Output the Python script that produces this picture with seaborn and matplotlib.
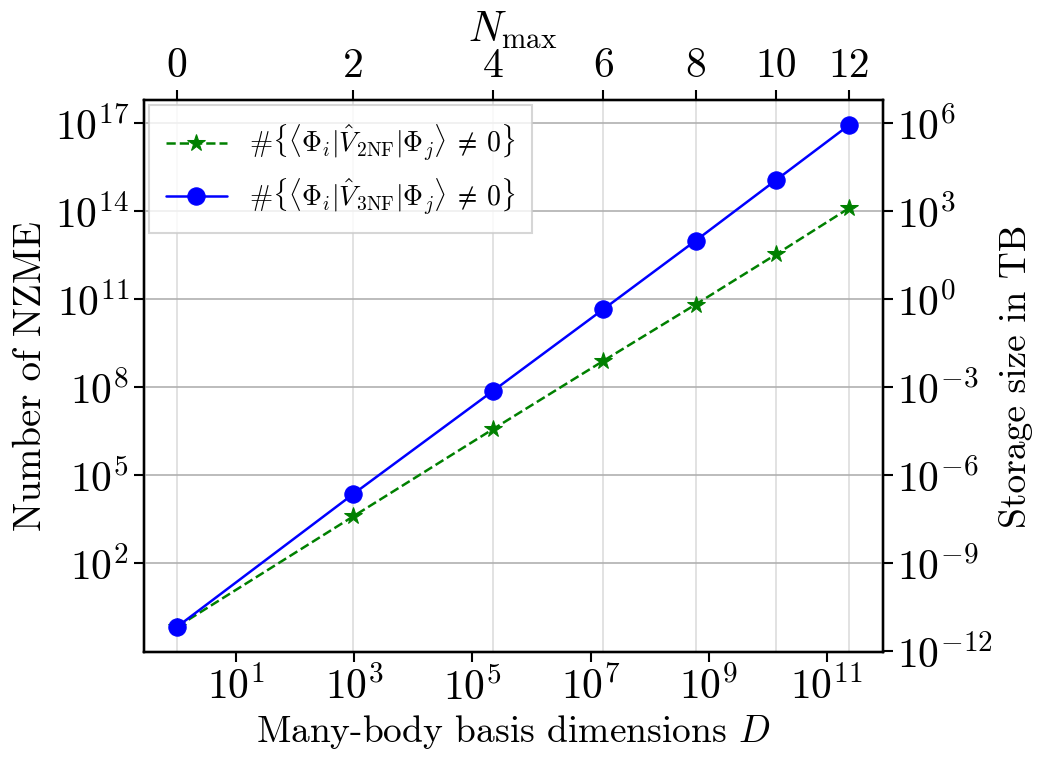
import numpy as np
import pandas as pd
import matplotlib
matplotlib.use("Agg")
import matplotlib.pyplot as plt
import matplotlib.ticker as mticker
import seaborn as sns

# ---- data ----
nmax = [0, 2, 4, 6, 8, 10, 12]
basis_dim = [1.0, 9.5e2, 2.23e5, 1.64e7, 6.0e8, 1.41e10, 2.4e11]
nzme_2nf = [0.7, 4.0e3, 3.8e6, 8.0e8, 6.7e10, 3.5e12, 1.3e14]
nzme_3nf = [0.7, 2.3e4, 7.6e7, 4.6e10, 1.0e13, 1.2e15, 8.8e16]
bottom_ticks = [1e1, 1e3, 1e5, 1e7, 1e9, 1e11]
left_ticks = [1e2, 1e5, 1e8, 1e11, 1e14, 1e17]
right_ticks = [1e-12, 1e-9, 1e-6, 1e-3, 1e0, 1e3, 1e6]
tb_per_element = 1e-11

label_2nf = r"$\#\{\langle\Phi_i|\hat{V}_{\mathrm{2NF}}|\Phi_j\rangle\:\neq\:0\}$"
label_3nf = r"$\#\{\langle\Phi_i|\hat{V}_{\mathrm{3NF}}|\Phi_j\rangle\:\neq\:0\}$"

df = pd.DataFrame({"D": basis_dim, "v2": nzme_2nf, "v3": nzme_3nf, "N": nmax})

sns.set_style("ticks")
plt.rcParams.update({
    "font.family": "serif",
    "font.serif": ["cmr10", "DejaVu Serif"],
    "mathtext.fontset": "cm",
    "axes.formatter.use_mathtext": True,
    "axes.unicode_minus": False,
    "axes.linewidth": 1.6,
    "axes.edgecolor": "black",
    "axes.labelcolor": "black",
    "text.color": "black",
    "xtick.major.width": 1.5,
    "ytick.major.width": 1.5,
    "xtick.major.size": 7,
    "ytick.major.size": 7,
    "xtick.color": "black",
    "ytick.color": "black",
})

TICK_FS = 30
LAB_FS = 27
fig = plt.figure(figsize=(10.41, 7.57), dpi=100)
ax = fig.add_axes([0.138, 0.139, 0.710, 0.729])
ax_top = ax.twiny()
ax_r = ax.twinx()

ax.set_xscale("log")
ax.set_yscale("log")
sns.lineplot(data=df, x="D", y="v2", ax=ax, color="green", linestyle="--",
             marker="*", markersize=13, markeredgecolor="green", linewidth=1.8,
             label=label_2nf)
sns.lineplot(data=df, x="D", y="v3", ax=ax, color="blue", linestyle="-",
             marker="o", markersize=12.5, markeredgecolor="blue", linewidth=1.8,
             label=label_3nf)

ax.set_xticks(bottom_ticks)
ax.set_yticks(left_ticks)
ax.xaxis.set_minor_locator(mticker.NullLocator())
ax.yaxis.set_minor_locator(mticker.NullLocator())
ax.grid(axis="y", color="#b0b0b0", linewidth=1.2)
ax.set_xlabel(r"Many-body basis dimensions $D$", fontsize=LAB_FS)
ax.set_ylabel("Number of NZME", fontsize=LAB_FS + 1)
ax.tick_params(labelsize=TICK_FS)

xlim = ax.get_xlim()
ylim = ax.get_ylim()

# top axis: N_max
ax_top.set_xscale("log")
ax_top.set_xlim(xlim)
ax_top.set_xticks(basis_dim)
ax_top.set_xticklabels([str(n) for n in nmax])
ax_top.xaxis.set_minor_locator(mticker.NullLocator())
ax_top.tick_params(axis="x", labelsize=TICK_FS)
ax_top.set_xlabel(r"$N_{\mathrm{max}}$", fontsize=TICK_FS)
ax_top.grid(axis="x", color="#dddddd", linewidth=1.2)

# right axis: storage size
ax_r.set_yscale("log")
ax_r.set_ylim(ylim[0] * tb_per_element, ylim[1] * tb_per_element)
ax_r.set_yticks(right_ticks)
ax_r.yaxis.set_minor_locator(mticker.NullLocator())
ax_r.tick_params(labelsize=TICK_FS)
ax_r.set_ylabel("Storage size in TB", fontsize=LAB_FS)

# keep data & legend above the twin axes' grid
ax.set_zorder(ax_top.get_zorder() + 2)
ax.patch.set_visible(False)
ax_top.patch.set_visible(True)
ax_top.patch.set_facecolor("white")

leg = ax.legend(loc="upper left", fontsize=20, frameon=True, framealpha=0.8,
                edgecolor="#cccccc", borderpad=0.6, handlelength=2.2,
                labelspacing=0.45, fancybox=False, borderaxespad=0.2)
leg.get_frame().set_linewidth(1.5)

fig.savefig("out.png", dpi=100)
